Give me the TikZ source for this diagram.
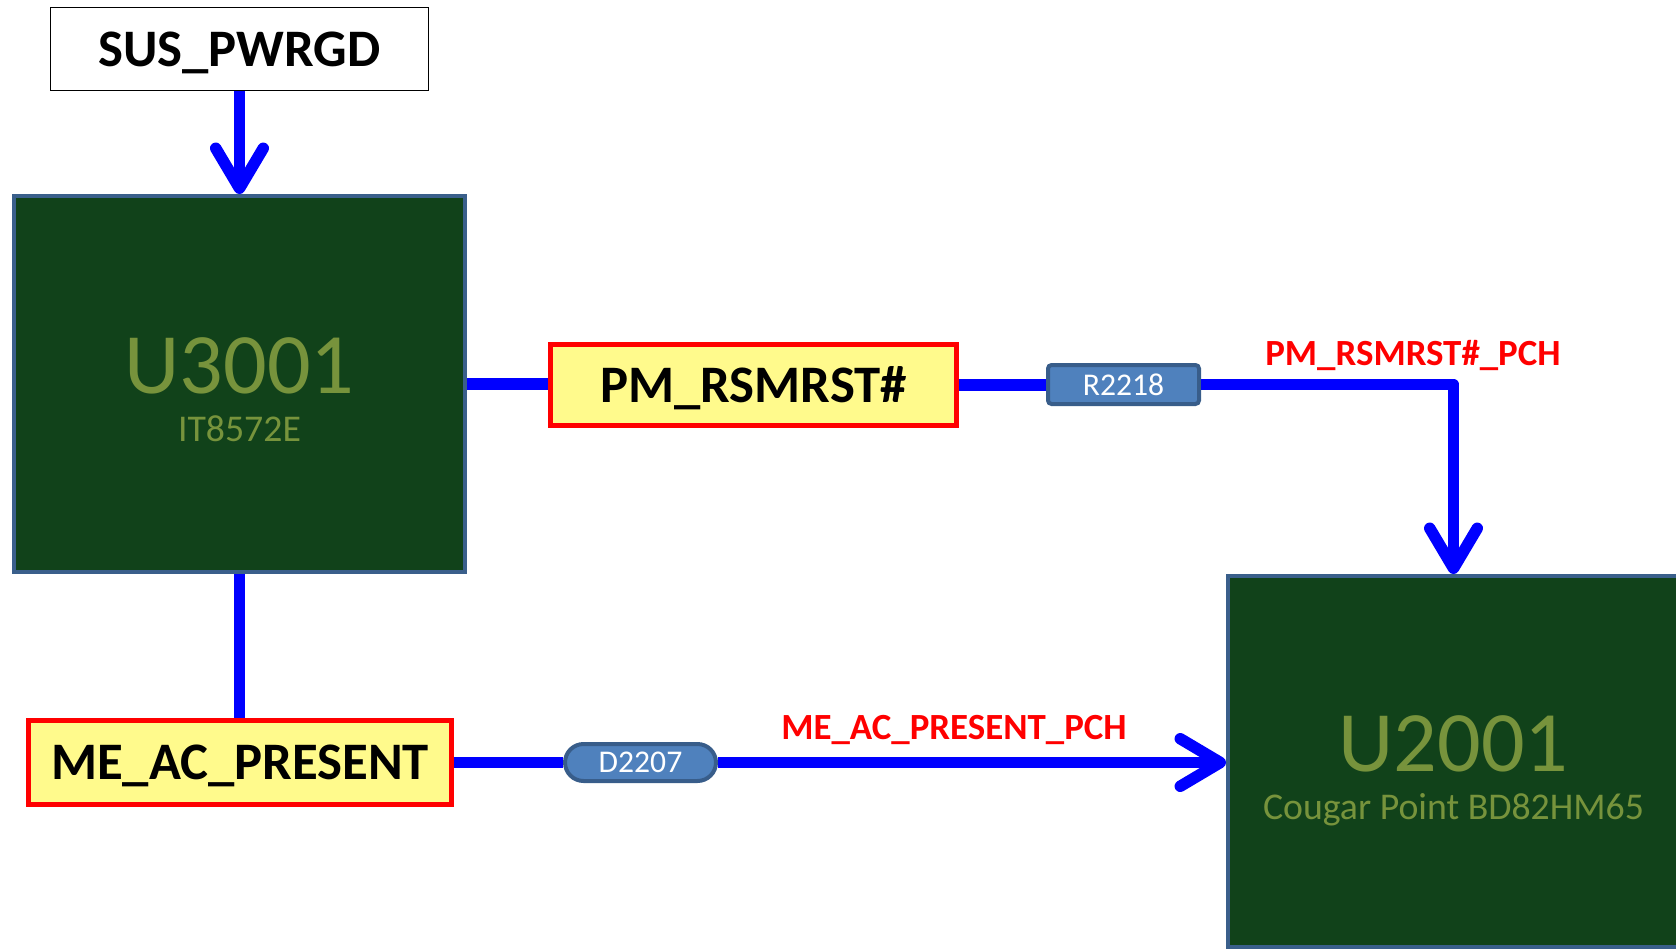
\documentclass[tikz,border=0pt]{standalone}
\usepackage{fontspec}
\setmainfont{Carlito}
\usepackage{tikz}
\usetikzlibrary{arrows.meta}
\definecolor{chipgroen}{RGB}{17,66,26}
\definecolor{chiprand}{RGB}{58,95,139}
\definecolor{chiptekst}{RGB}{119,147,60}
\definecolor{geel}{RGB}{255,250,140}
\definecolor{onderdeel}{RGB}{79,129,189}
\definecolor{onderdeelrand}{RGB}{56,93,138}

\begin{document}
\begin{tikzpicture}[x=0.02cm, y=-0.02cm,
    chip/.style={draw=chiprand, line width=0.08cm, fill=chipgroen, minimum width=9.02cm, minimum height=7.52cm, inner sep=0pt},
    chipnaam/.style={text=chiptekst, anchor=base, inner sep=0pt, font=\fontsize{49}{52}\selectfont},
    chiptype/.style={text=chiptekst, anchor=base, inner sep=0pt, font=\fontsize{21.5}{24}\selectfont},
    signaal/.style={draw=red, line width=0.1cm, fill=geel, inner sep=0pt, text depth=0pt, font=\bfseries\fontsize{30}{32}\selectfont},
    onderdeel/.style={draw=onderdeelrand, line width=0.08cm, fill=onderdeel, text=white, inner sep=0pt, minimum width=3.02cm, font=\fontsize{18}{20}\selectfont},
    netnaam/.style={text=red, inner sep=0pt, text depth=0pt, font=\bfseries\fontsize{21}{24}\selectfont},
    draad/.style={draw=blue, line width=0.23cm, line join=round},
    pijl/.style={draad, -{Straight Barb[length=0.8cm, width=0.95cm, round]}}]
    \clip (0,0) rectangle (1676,950);
    % blokken
    \node[draw=black, line width=0.8pt, fill=white, minimum width=7.55cm, minimum height=1.65cm, text depth=0pt,
    font=\bfseries\fontsize{30}{32}\selectfont] (sus) at (239.5,49) {SUS\_PWRGD};
    \node[chip] (u3001) at (239.5,384) {};
    \node[chip, minimum height=7.42cm] (u2001) at (1453.5,761.5) {};
    \node[chipnaam] (u3001naam) at ([yshift=-0.18cm]u3001.center) {U3001};
    \node[chiptype] (u3001type) at ([yshift=-1.15cm]u3001.center) {IT8572E};
    \node[chipnaam] (u2001naam) at ([yshift=-0.19cm]u2001.center) {U2001};
    \node[chiptype] (u2001type) at ([yshift=-1.16cm]u2001.center) {Cougar Point BD82HM65};
    % signalen
    \node[signaal, minimum width=8.12cm, minimum height=1.62cm] (pm) at (753.5,385) {PM\_RSMRST\#};
    \node[signaal, minimum width=8.46cm, minimum height=1.68cm] (acp) at (240,762.5) {ME\_AC\_PRESENT};
    % weerstand en diode
    \node[onderdeel, minimum height=0.78cm, rounded corners=2pt] (r2218) at (1123.5,384.5) {R2218};
    \node[onderdeel, minimum height=0.74cm, rounded corners=0.37cm] (d2207) at (640.5,762.5) {D2207};
    % netnamen
    \node[netnaam] (pmpch) at (1413,353) {PM\_RSMRST\#\_PCH};
    \node[netnaam] (acpch) at (954,727) {ME\_AC\_PRESENT\_PCH};
    % draden
    \draw[pijl] (sus) -- (u3001);
    \foreach \a/\b in {u3001/pm, pm/r2218, acp/d2207}
    \draw[draad] (\a.east) -- (\a.east -| \b.west);
    \draw[draad] (u3001.south) -- (u3001.south |- acp.north);
    \draw[pijl] (r2218.east) -| (u2001.north);
    \draw[pijl] (d2207.east) -- (d2207.east -| u2001.west);
\end{tikzpicture}
\end{document}
